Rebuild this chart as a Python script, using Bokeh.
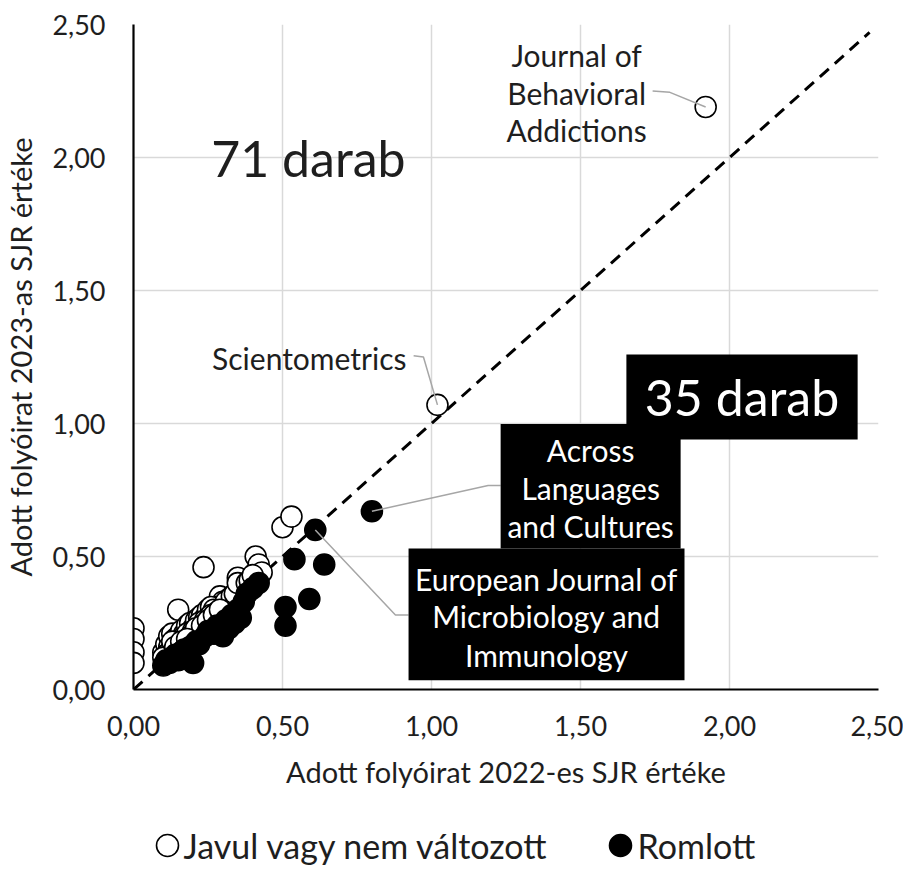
from bokeh.plotting import figure
from bokeh.layouts import column
from bokeh.models import Label, BoxAnnotation, FixedTicker, Range1d
from bokeh.core.properties import value
from bokeh.embed import file_html
from bokeh.resources import INLINE

# ---------------- data ----------------
# "Javul vagy nem változott" (improved or unchanged) - 2022 SJR vs 2023 SJR
improved_x = [0.00, 0.00, 0.00, 0.00,
              1.92, 1.02, 0.50, 0.53, 0.235, 0.15, 0.41, 0.42, 0.43, 0.35, 0.36, 0.37,
              0.29, 0.30, 0.28, 0.32,
              0.10, 0.11, 0.12, 0.13, 0.14, 0.15, 0.16, 0.17, 0.18, 0.19, 0.20, 0.21,
              0.22, 0.23, 0.24, 0.25, 0.26, 0.27,
              0.12, 0.13, 0.14, 0.16, 0.18, 0.20, 0.22, 0.24, 0.26, 0.28, 0.30, 0.31,
              0.33, 0.34, 0.35, 0.38, 0.39, 0.40,
              0.11, 0.12, 0.15, 0.17, 0.19, 0.21, 0.23, 0.25, 0.27, 0.29,
              0.10, 0.13, 0.14, 0.16, 0.18]
improved_y = [0.23, 0.19, 0.14, 0.10,
              2.19, 1.07, 0.61, 0.65, 0.46, 0.30, 0.50, 0.47, 0.44, 0.42, 0.38, 0.36,
              0.35, 0.33, 0.31, 0.34,
              0.14, 0.17, 0.20, 0.21, 0.19, 0.20, 0.22, 0.21, 0.24, 0.25, 0.23, 0.26,
              0.27, 0.28, 0.27, 0.30, 0.31, 0.30,
              0.16, 0.15, 0.17, 0.19, 0.21, 0.22, 0.25, 0.26, 0.28, 0.29, 0.31, 0.33,
              0.35, 0.36, 0.40, 0.40, 0.41, 0.43,
              0.13, 0.14, 0.17, 0.18, 0.20, 0.23, 0.24, 0.26, 0.28, 0.30,
              0.12, 0.18, 0.16, 0.18, 0.19]

# "Romlott" (worsened)
worsened_x = [0.80, 0.61, 0.54, 0.64, 0.59, 0.51, 0.51,
              0.10, 0.11, 0.12, 0.13, 0.14, 0.15, 0.16, 0.17, 0.19, 0.20, 0.21, 0.22,
              0.24, 0.25, 0.27, 0.28, 0.30, 0.31, 0.32, 0.33, 0.34, 0.35, 0.36, 0.37,
              0.38, 0.40, 0.42, 0.18]
worsened_y = [0.67, 0.60, 0.49, 0.47, 0.34, 0.31, 0.24,
              0.09, 0.11, 0.10, 0.12, 0.13, 0.11, 0.14, 0.15, 0.16, 0.10, 0.18, 0.17,
              0.20, 0.22, 0.21, 0.24, 0.20, 0.26, 0.23, 0.28, 0.25, 0.30, 0.27, 0.33,
              0.36, 0.38, 0.40, 0.13]

tick_values = [0.0, 0.5, 1.0, 1.5, 2.0, 2.5]
tick_labels = ["0,00", "0,50", "1,00", "1,50", "2,00", "2,50"]

diag = [0.0, 2.47]

x_title = "Adott folyóirat 2022-es SJR értéke"
y_title = "Adott folyóirat 2023-as SJR értéke"
legend_labels = ["Javul vagy nem változott", "Romlott"]
legend_fills = ["white", "black"]

# indices of the labelled journals
JBA, SCI = 4, 5          # in improved
ALC, EJMI = 0, 1         # in worsened

FONT = "Lato"
TXT = "#1e1e1e"
LEADER = "#a6a6a6"
BORDERS = dict(min_border_left=122, min_border_right=25)

p = figure(frame_width=745, frame_height=665,
           x_range=Range1d(0, 2.5), y_range=Range1d(0, 2.5),
           output_backend="svg", toolbar_location=None,
           min_border_top=24, min_border_bottom=108, outline_line_color=None,
           background_fill_color="white", border_fill_color="white", **BORDERS)

for ax in (p.xaxis[0], p.yaxis[0]):
    ax.ticker = FixedTicker(ticks=tick_values)
    ax.major_label_overrides = dict(zip(tick_values, tick_labels))
    ax.major_tick_line_color = None
    ax.minor_tick_line_color = None
    ax.axis_line_color = "black"
    ax.axis_line_width = 2.2
    ax.major_label_text_font = FONT
    ax.major_label_text_font_size = "27px"
    ax.major_label_text_color = TXT
    ax.axis_label_text_font = FONT
    ax.axis_label_text_font_size = "29px"
    ax.axis_label_text_font_style = "normal"
    ax.axis_label_text_color = TXT

p.xaxis.axis_label = x_title
p.yaxis.axis_label = y_title
p.xaxis.major_label_standoff = 20
p.xaxis.axis_label_standoff = 15
p.yaxis.major_label_standoff = 22
p.yaxis.axis_label_standoff = 11

for g in (p.xgrid[0], p.ygrid[0]):
    g.ticker = FixedTicker(ticks=tick_values)
    g.grid_line_color = "#d9d9d9"
    g.grid_line_width = 1.5

# diagonal
p.line(diag, diag, line_color="black", line_width=3, line_dash="12 8")

r_imp = p.scatter(improved_x, improved_y, size=21, fill_color="white",
                  line_color="black", line_width=1.6)
r_wor = p.scatter(worsened_x, worsened_y, size=21, fill_color="black",
                  line_color="black", line_width=1.6)

# boxes
p.add_layout(BoxAnnotation(left=1.654, right=2.43, top=1.259, bottom=0.94,
                           fill_color="black", fill_alpha=1, line_color=None))
p.add_layout(BoxAnnotation(left=1.232, right=1.836, top=0.998, bottom=0.53,
                           fill_color="black", fill_alpha=1, line_color=None))
p.add_layout(BoxAnnotation(left=0.923, right=1.849, top=0.53, bottom=0.035,
                           fill_color="black", fill_alpha=1, line_color=None))

# leader lines (end at the data points)
p.line([1.742, 1.80, improved_x[JBA]], [2.25, 2.245, improved_y[JBA]],
       line_color=LEADER, line_width=1.5)
p.line([0.94, 0.973, improved_x[SCI]], [1.255, 1.25, improved_y[SCI]],
       line_color=LEADER, line_width=1.5)
p.line([1.232, 1.19, worsened_x[ALC]], [0.767, 0.767, worsened_y[ALC]],
       line_color=LEADER, line_width=1.5)
p.line([0.923, 0.879, worsened_x[EJMI]], [0.28, 0.28, worsened_y[EJMI]],
       line_color=LEADER, line_width=1.5)


def lab(x, y, t, size="30px", color=TXT, align="center"):
    p.add_layout(Label(x=x, y=y, text=t, text_align=align, text_baseline="middle",
                       text_font=FONT, text_font_size=size, text_color=color))


lab(0.587, 2.0, "71 darab", size="50px")
lab(2.042, 1.10, "35 darab", size="50px", color="white")

for yy, t in zip([2.387, 2.244, 2.102], ["Journal of", "Behavioral", "Addictions"]):
    lab(1.487, yy, t)
lab(0.916, 1.248, "Scientometrics", align="right")
for yy, t in zip([0.902, 0.759, 0.613], ["Across", "Languages", "and Cultures"]):
    lab(1.534, yy, t, color="white")
for yy, t in zip([0.414, 0.278, 0.128],
                 ["European Journal of", "Microbiology and", "Immunology"]):
    lab(1.386, yy, t, color="white")

# ---------------- legend strip below the chart ----------------
# its frame is aligned with the chart frame (pixel columns 130..875)
LEG_H = 70
leg = figure(frame_width=745, frame_height=LEG_H, x_range=Range1d(130, 875),
             y_range=Range1d(0, LEG_H), output_backend="svg",
             toolbar_location=None, x_axis_type=None, y_axis_type=None,
             min_border_top=0, min_border_bottom=0, outline_line_color=None,
             background_fill_color="white", border_fill_color="white", **BORDERS)
leg.grid.visible = False
leg_marker_x = [164, 617]
leg_text_x = [180, 634]
leg_y = [22, 22]
leg.scatter(leg_marker_x, leg_y, size=22, fill_color=legend_fills,
            line_color="black", line_width=1.6)
leg.text(leg_text_x, leg_y, text=legend_labels, text_font=value(FONT),
         text_font_size="34px", text_baseline="middle", text_align="left",
         text_color=TXT)

layout = column(p, leg, spacing=0)
open("out.html", "w").write(file_html(layout, INLINE))
